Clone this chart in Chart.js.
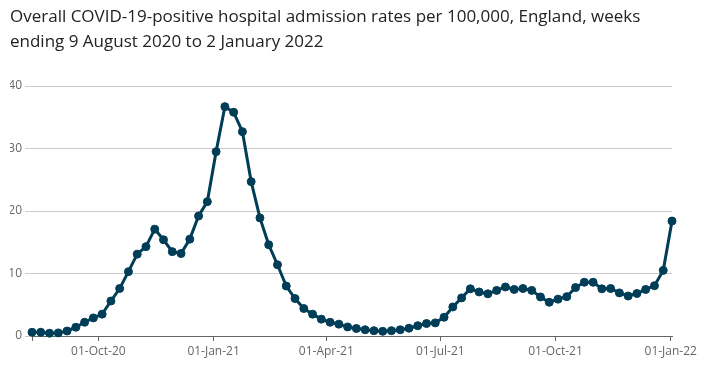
<!DOCTYPE html>
<html>
<head>
<meta charset="utf-8">
<script src="https://cdn.jsdelivr.net/npm/chart.js@4"></script>
<style>
  html, body { margin: 0; padding: 0; background: #fff; }
  #wrap { width: 703px; height: 368px; position: relative; }
</style>
</head>
<body>
<div id="wrap"><canvas id="chart"></canvas></div>
<script>
const titleLines = [
  'Overall COVID-19-positive hospital admission rates per 100,000, England, weeks',
  'ending 9 August 2020 to 2 January 2022'
];

// week ending dates run weekly from 9 Aug 2020
const firstWeek = new Date(Date.UTC(2020, 7, 9));
const rates = [
  0.6, 0.6, 0.45, 0.5, 0.8, 1.4, 2.2, 2.9, 3.5, 5.6,
  7.6, 10.3, 13.1, 14.3, 17.1, 15.4, 13.5, 13.2, 15.5, 19.2,
  21.5, 29.5, 36.7, 35.8, 32.7, 24.7, 18.9, 14.6, 11.4, 8.0,
  6.0, 4.4, 3.5, 2.7, 2.2, 1.9, 1.45, 1.2, 1.0, 0.85,
  0.75, 0.85, 1.0, 1.25, 1.65, 2.0, 2.1, 3.0, 4.65, 6.1,
  7.55, 7.05, 6.75, 7.3, 7.85, 7.45, 7.6, 7.3, 6.25, 5.4,
  5.9, 6.3, 7.75, 8.6, 8.6, 7.55, 7.6, 6.9, 6.4, 6.8,
  7.45, 8.05, 10.5, 18.4
];

const tickDates = ['2020-10-01', '2021-01-01', '2021-04-01', '2021-07-01', '2021-10-01', '2022-01-01'];
const tickLabels = ['01-Oct-20', '01-Jan-21', '01-Apr-21', '01-Jul-21', '01-Oct-21', '01-Jan-22'];
const yTicks = [0, 10, 20, 30, 40];

const DAY = 86400000;
const dayOf = d => Math.round((Date.parse(d) - firstWeek.getTime()) / DAY);
const points = rates.map((v, i) => ({ x: i * 7, y: v }));
const xTicks = [0].concat(tickDates.map(dayOf));
const labelFor = {};
tickDates.forEach((d, i) => { labelFor[dayOf(d)] = tickLabels[i]; });

Chart.defaults.font.family = "'Open Sans', sans-serif";
Chart.defaults.color = '#666';

new Chart(document.getElementById('chart'), {
  type: 'line',
  data: {
    datasets: [{
      data: points,
      borderColor: '#003d57',
      backgroundColor: '#003d57',
      borderWidth: 3,
      pointRadius: 4,
      pointBorderWidth: 1,
      pointHoverRadius: 5,
      tension: 0,
      clip: false
    }]
  },
  options: {
    responsive: true,
    maintainAspectRatio: false,
    animation: false,
    layout: { padding: { left: 10, right: 31, top: 4, bottom: 0 } },
    plugins: {
      legend: { display: false },
      tooltip: { enabled: false },
      title: {
        display: true,
        text: titleLines,
        align: 'start',
        color: '#222',
        font: { size: 17, weight: 'normal', lineHeight: 1.5 },
        padding: { top: 0, bottom: 31 }
      }
    },
    scales: {
      x: {
        type: 'linear',
        min: 0,
        max: (rates.length - 1) * 7,
        afterBuildTicks: s => { s.ticks = xTicks.map(v => ({ value: v })); },
        afterFit: s => { s.height = 32; },
        ticks: {
          autoSkip: false,
          maxRotation: 0,
          padding: 3,
          font: { size: 12 },
          callback: v => labelFor[v] || ''
        },
        grid: { drawOnChartArea: false, drawTicks: true, tickLength: 5, color: '#666' },
        border: { color: '#666', width: 1 }
      },
      y: {
        min: 0,
        max: 40,
        afterBuildTicks: s => { s.ticks = yTicks.map(v => ({ value: v })); },
        afterFit: s => { s.width = 22; },
        ticks: { padding: 3, font: { size: 12 } },
        grid: { color: '#ccc', tickLength: 7 },
        border: { display: false }
      }
    }
  }
});
</script>
</body>
</html>
